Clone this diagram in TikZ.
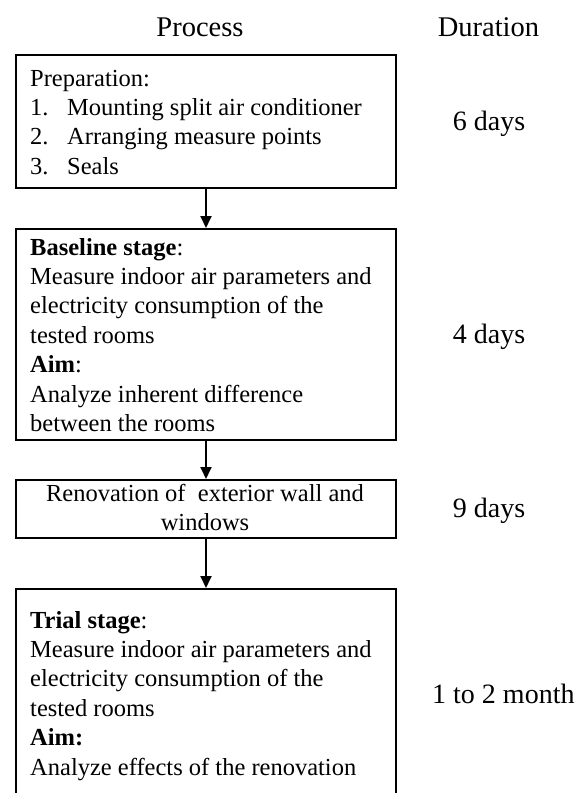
\documentclass[tikz,border=0pt]{standalone}
\usepackage{fontspec}
\setmainfont{Liberation Serif}
\usetikzlibrary{arrows.meta}
\begin{document}
\begin{tikzpicture}[x=1pt,y=-1pt,
  stagebox/.style={draw, line width=2pt, inner sep=0pt, anchor=north west, minimum width=380pt},
  boxtext/.style={inner sep=0pt, anchor=north west, align=left, font=\fontsize{24.5}{29.4}\selectfont},
  centertext/.style={inner sep=0pt, anchor=north, align=center, font=\fontsize{24.5}{29}\selectfont},
  headtext/.style={inner sep=0pt, anchor=base, font=\fontsize{28.5}{34}\selectfont},
  durtext/.style={inner sep=0pt, anchor=base, font=\fontsize{28}{34}\selectfont},
  flow/.style={line width=1.8pt, -{Triangle[length=12pt,width=11pt]}}
]
\useasboundingbox (0,0) rectangle (576,793);
\clip (0,0) rectangle (576,793);

% headers
\node[headtext] (hproc) at (200,36) {Process};
\node[headtext] (hdur) at (488.5,36) {Duration};

% boxes
\node[stagebox, minimum height=133pt] (box1) at (15,54) {};
\node[stagebox, minimum height=211pt] (box2) at (15,228) {};
\node[stagebox, minimum height=58pt] (box3) at (15,479) {};
\node[stagebox, minimum height=230pt] (box4) at (15,588) {};

% box texts
\node[boxtext] (t1) at (30,65.4) {\strut Preparation:\\
\makebox[37pt][l]{1.}Mounting split air conditioner\\
\makebox[37pt][l]{2.}Arranging measure points\\
\makebox[37pt][l]{3.}Seals};

\node[boxtext] (t2) at (30,234.4) {\strut\textbf{Baseline stage}:\\
Measure indoor air parameters and\\
electricity consumption of the\\
tested rooms\\
\textbf{Aim}:\\
Analyze inherent difference\\
between the rooms};

\node[centertext] (t3) at (205,481.4) {\strut Renovation of\ \ exterior wall and\\ windows};

\node[boxtext] (t4) at (30,607.4) {\strut\textbf{Trial stage}:\\
Measure indoor air parameters and\\
electricity consumption of the\\
tested rooms\\
\textbf{Aim:}\\
Analyze effects of the renovation};

% durations
\node[durtext] (d1) at (489,130) {6 days};
\node[durtext] (d2) at (489,343) {4 days};
\node[durtext] (d3) at (489,517) {9 days};
\node[durtext, anchor=base west] (d4) at (432,703) {1 to 2 month};

% connectors
\draw[flow] (box1.south) -- (box2.north);
\draw[flow] (box2.south) -- (box3.north);
\draw[flow] (box3.south) -- (box4.north);
\end{tikzpicture}
\end{document}
